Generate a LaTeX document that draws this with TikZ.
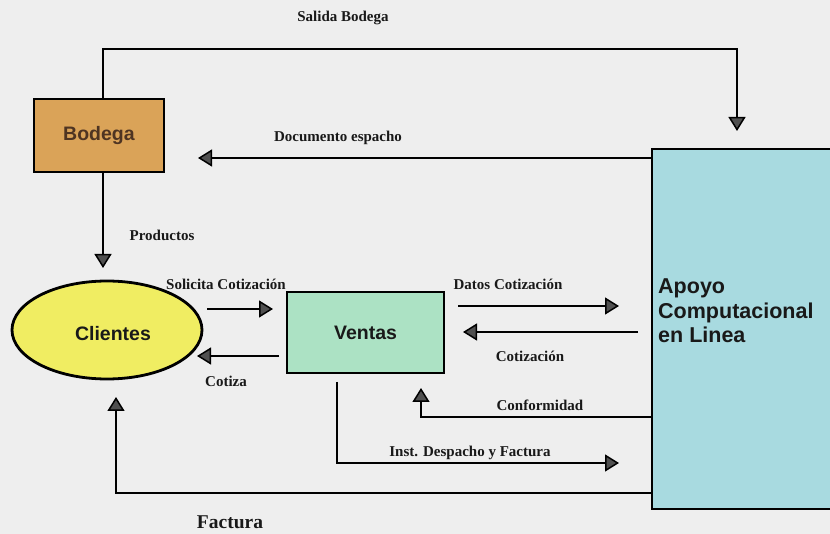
\documentclass[tikz,border=0pt]{standalone}
\usepackage{fontspec}
\setmainfont{Liberation Serif}
\newfontfamily\arialf{Liberation Sans}
\usetikzlibrary{arrows.meta,shapes.geometric}

\definecolor{paper}{RGB}{238,238,238}
\definecolor{bodegafill}{RGB}{218,163,88}
\definecolor{clientesfill}{RGB}{240,237,98}
\definecolor{ventasfill}{RGB}{172,226,196}
\definecolor{apoyofill}{RGB}{168,218,224}
\definecolor{tipfill}{RGB}{80,80,80}
\definecolor{bodegatext}{RGB}{78,52,34}
\definecolor{inktext}{RGB}{25,25,25}

\tikzset{
  entity/.style={draw=black, line width=1.8pt, inner sep=0pt},
  boxtext/.style={font=\arialf\bfseries\fontsize{19.5}{22}\selectfont, text=inktext},
  flowlabel/.style={font=\bfseries\fontsize{15}{17}\selectfont, text=inktext, inner sep=0pt},
  flow/.style={draw=black, line width=1.5pt,
    -{Triangle[width=17pt,length=14pt,fill=tipfill]}},
}

\begin{document}
\begin{tikzpicture}[x=1pt,y=-1pt]
  % page
  \fill[paper] (0,0) rectangle (830,534);
  \useasboundingbox (0,0) rectangle (830,534);
  \clip (0,0) rectangle (830,534);

  % entities
  \node[entity, rectangle, fill=bodegafill, minimum width=130pt, minimum height=73pt,
        boxtext, text=bodegatext] (bodega) at (99,135.5) {Bodega};
  \node[entity, ellipse, fill=clientesfill, line width=2.8pt, minimum width=190pt,
        minimum height=98pt] (clientes) at (107,330) {};
  \node[boxtext] (clientestext) at (113,334) {Clientes};
  \node[entity, rectangle, fill=ventasfill, minimum width=157pt, minimum height=81pt,
        boxtext] (ventas) at (365.5,332.5) {Ventas};
  \node[entity, rectangle, fill=apoyofill, minimum width=200pt, minimum height=360pt]
        (apoyo) at (752,329) {};
  \node[boxtext, font=\arialf\bfseries\fontsize{21.5}{24.5}\selectfont, align=left,
        anchor=north west, inner sep=0pt] (apoyotext) at (658,279)
        {Apoyo\\Computacional\\en Linea};

  % free ends of the connectors
  \coordinate (sbtip) at (737,131);
  \coordinate (doctip) at (198,158);
  \coordinate (prodtip) at (103,268);
  \coordinate (solstart) at (207,309);
  \coordinate (soltip) at (273,309);
  \coordinate (cotstart) at (279,356);
  \coordinate (cottip) at (197,356);
  \coordinate (datstart) at (458,306);
  \coordinate (dattip) at (619,306);
  \coordinate (czstart) at (638,332);
  \coordinate (cztip) at (463,332);
  \coordinate (conftip) at (421,388);
  \coordinate (inststart) at (337,382);
  \coordinate (insttip) at (619,463);
  \coordinate (factip) at (116,397);

  % connectors
  \draw[flow] ([xshift=4pt]bodega.north) -- ++(0,-49) -| (sbtip);
  \draw[flow] (apoyo.west |- doctip) -- (doctip);
  \draw[flow] ([xshift=4pt]bodega.south) -- (prodtip);
  \draw[flow] (solstart) -- (soltip);
  \draw[flow] (cotstart) -- (cottip);
  \draw[flow] (datstart) -- (dattip);
  \draw[flow] (czstart) -- (cztip);
  \draw[flow] (apoyo.west |- 0,417) -| (conftip);
  \draw[flow] (inststart) |- (insttip);
  \draw[flow] (apoyo.west |- 0,493) -| (factip);

  % labels
  \node[flowlabel] (lsalida) at (343,18) {Salida Bodega};
  \node[flowlabel] (ldoc) at (338,138) {Documento espacho};
  \node[flowlabel] (lprod) at (162,235) {Productos};
  \node[flowlabel] (lsol) at (226,284) {Solicita Cotización};
  \node[flowlabel] (lcotiza) at (226,381) {Cotiza};
  \node[flowlabel] (ldatos) at (508,284) {Datos Cotización};
  \node[flowlabel] (lcotizacion) at (530,356) {Cotización};
  \node[flowlabel] (lconf) at (540,405) {Conformidad};
  \node[flowlabel] (linst) at (470,453) {Inst. Despacho y Factura};
  \node[flowlabel, font=\bfseries\fontsize{19.5}{22}\selectfont] (lfactura) at (230,522) {Factura};
\end{tikzpicture}
\end{document}
